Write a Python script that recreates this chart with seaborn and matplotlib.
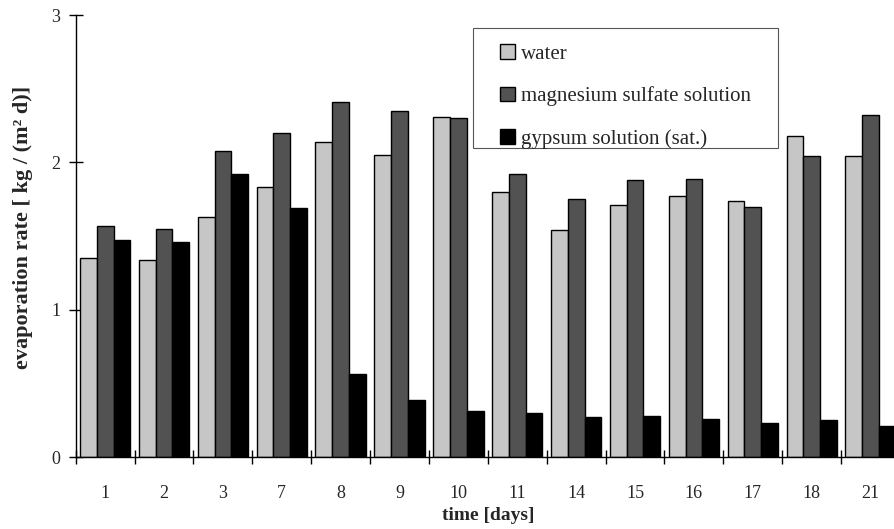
import matplotlib
matplotlib.use("Agg")
import matplotlib.pyplot as plt
import seaborn as sns
import pandas as pd
from matplotlib.ticker import FixedLocator
from matplotlib.patches import Rectangle

days = ["1", "2", "3", "7", "8", "9", "10", "11", "14", "15", "16", "17", "18", "21"]
water = [1.35, 1.34, 1.63, 1.83, 2.14, 2.05, 2.31, 1.80, 1.54, 1.71, 1.77, 1.74, 2.18, 2.04]
magnesium = [1.57, 1.55, 2.08, 2.20, 2.41, 2.35, 2.30, 1.92, 1.75, 1.88, 1.89, 1.70, 2.04, 2.32]
gypsum = [1.47, 1.46, 1.92, 1.69, 0.56, 0.39, 0.31, 0.30, 0.27, 0.28, 0.26, 0.23, 0.25, 0.21]
series_names = ["water", "magnesium sulfate solution", "gypsum solution (sat.)"]
y_ticks = [0, 1, 2, 3]

rows = []
for name, vals in zip(series_names, [water, magnesium, gypsum]):
    for d, v in zip(days, vals):
        rows.append({"day": d, "series": name, "value": v})
df = pd.DataFrame(rows)

sns.set_style("white")
plt.rcParams["font.family"] = ["Liberation Serif", "DejaVu Serif"]

W, H = 894, 529
fig = plt.figure(figsize=(W / 100, H / 100), dpi=100)
left, right, top, bottom = 75.7, 900, 15, 457
ax = fig.add_axes([left / W, (H - bottom) / H, (right - left) / W, (bottom - top) / H])

palette = {"water": "#c6c6c6", "magnesium sulfate solution": "#525252", "gypsum solution (sat.)": "#000000"}
sns.barplot(data=df, x="day", y="value", hue="series", order=days, hue_order=series_names,
            palette=palette, width=0.855, edgecolor="black", linewidth=1.0,
            saturation=1, ax=ax, legend=True)

ax.set_xlim(-0.5, len(days) - 0.5)
ax.set_ylim(0, 3)
for s in ["top", "right"]:
    ax.spines[s].set_visible(False)
for s in ["left", "bottom"]:
    ax.spines[s].set_color("black")
    ax.spines[s].set_linewidth(1.0)

ax.set_yticks(y_ticks)
ax.set_yticklabels([str(t) for t in y_ticks], fontsize=13)
ax.tick_params(axis="y", left=True, direction="inout", length=10, width=1, color="black", pad=6)
ax.set_xticks(range(len(days)))
ax.set_xticklabels(days, fontsize=13)
ax.tick_params(axis="x", which="major", bottom=True, length=0, pad=20)
ax.xaxis.set_minor_locator(FixedLocator([i - 0.5 for i in range(len(days) + 1)]))
ax.tick_params(axis="x", which="minor", bottom=True, direction="inout", length=10, width=1, color="black")

ax.set_xlabel("time [days]", fontsize=14, fontweight="bold", labelpad=4)
ax.set_ylabel("evaporation rate [ kg / (m² d)]", fontsize=16, fontweight="bold")
ax.yaxis.set_label_coords(-0.052, 0.519)

# legend frame drawn separately (box 473..778 x 28..148 px)
frame = Rectangle((473 / W, (H - 148) / H), 305 / W, 120 / H, transform=fig.transFigure,
                  facecolor="white", edgecolor="#555555", linewidth=0.8, zorder=5)
fig.add_artist(frame)

handles, labels = ax.get_legend_handles_labels()
leg = ax.legend(handles, labels, loc="upper left",
                bbox_to_anchor=((500 - left) / (right - left), (bottom - 44) / (bottom - top)),
                frameon=False, fontsize=15, handlelength=0.7, handleheight=0.7,
                handletextpad=0.3, labelspacing=1.1, borderpad=0, borderaxespad=0)
leg.set_zorder(10)
leg.remove()
fig.add_artist(leg)

fig.savefig("out.png", dpi=100)
